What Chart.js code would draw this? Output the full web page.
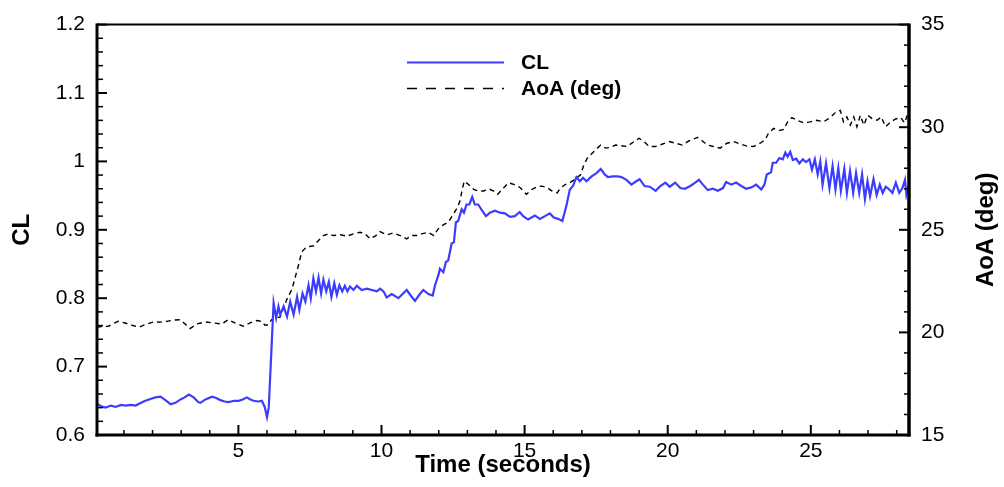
<!DOCTYPE html>
<html>
<head>
<meta charset="utf-8">
<script src="https://cdn.jsdelivr.net/npm/chart.js@4/dist/chart.umd.min.js"></script>
<style>
html,body{margin:0;padding:0;background:#fff;}
#wrap{width:1004px;height:487px;position:relative;}
</style>
</head>
<body>
<div id="wrap"><canvas id="c" width="1004" height="487"></canvas></div>
<script>
// ---- data ----
const clTime = [0.06,0.2,0.36,0.55,0.71,0.9,1.06,1.25,1.41,1.6,1.75,1.95,2.1,2.28,2.45,2.63,2.8,2.98,3.12,3.27,3.44,3.6,3.67,3.85,4.08,4.22,4.37,4.52,4.66,4.85,5.01,5.15,5.3,5.42,5.53,5.7,5.82,5.92,6.0,6.06,6.15,6.23,6.32,6.4,6.46,6.58,6.7,6.81,6.93,7.05,7.13,7.24,7.34,7.45,7.53,7.62,7.71,7.8,7.89,7.97,8.07,8.16,8.25,8.35,8.44,8.53,8.63,8.72,8.81,8.9,9.02,9.14,9.31,9.49,9.66,9.84,9.95,10.07,10.18,10.36,10.59,10.71,10.88,11.02,11.17,11.32,11.46,11.64,11.79,11.87,11.99,12.04,12.16,12.25,12.33,12.45,12.53,12.6,12.68,12.8,12.88,12.97,13.07,13.17,13.26,13.38,13.5,13.65,13.79,13.96,14.14,14.31,14.49,14.66,14.83,14.95,15.12,15.36,15.53,15.71,15.88,16.02,16.17,16.32,16.46,16.58,16.69,16.81,16.93,17.04,17.16,17.34,17.51,17.66,17.8,17.91,18.09,18.25,18.38,18.56,18.73,18.9,19.02,19.19,19.37,19.58,19.74,19.92,20.07,20.26,20.44,20.6,20.79,20.96,21.09,21.23,21.4,21.58,21.75,21.93,22.04,22.22,22.39,22.57,22.74,22.92,23.09,23.27,23.38,23.46,23.61,23.67,23.79,23.9,24.02,24.11,24.19,24.28,24.37,24.49,24.6,24.72,24.83,24.95,25.04,25.14,25.24,25.33,25.41,25.53,25.65,25.76,25.86,25.96,26.05,26.17,26.26,26.37,26.48,26.58,26.69,26.79,26.89,26.98,27.07,27.19,27.3,27.41,27.51,27.62,27.74,27.85,27.97,28.09,28.2,28.29,28.34,28.43];
const clValues = [0.646,0.642,0.640,0.643,0.641,0.644,0.643,0.644,0.643,0.647,0.650,0.653,0.655,0.656,0.651,0.645,0.647,0.652,0.655,0.659,0.655,0.648,0.647,0.652,0.656,0.654,0.651,0.649,0.648,0.650,0.650,0.652,0.655,0.652,0.650,0.649,0.650,0.641,0.626,0.640,0.720,0.793,0.771,0.788,0.776,0.788,0.773,0.795,0.776,0.802,0.783,0.807,0.795,0.819,0.800,0.829,0.810,0.830,0.807,0.827,0.810,0.824,0.802,0.822,0.805,0.819,0.810,0.818,0.810,0.817,0.812,0.818,0.812,0.814,0.812,0.810,0.814,0.810,0.801,0.806,0.800,0.805,0.812,0.804,0.796,0.805,0.812,0.806,0.804,0.819,0.834,0.843,0.838,0.853,0.855,0.880,0.882,0.911,0.913,0.930,0.925,0.937,0.937,0.948,0.937,0.937,0.929,0.920,0.925,0.928,0.925,0.924,0.919,0.920,0.926,0.920,0.915,0.921,0.916,0.920,0.924,0.918,0.916,0.913,0.935,0.959,0.964,0.977,0.971,0.976,0.971,0.978,0.983,0.989,0.981,0.977,0.978,0.978,0.977,0.973,0.966,0.971,0.974,0.964,0.963,0.957,0.964,0.969,0.963,0.969,0.961,0.960,0.964,0.969,0.973,0.966,0.958,0.960,0.957,0.961,0.970,0.966,0.969,0.964,0.960,0.962,0.966,0.959,0.966,0.981,0.984,0.998,0.998,1.005,1.003,1.013,1.007,1.014,1.002,1.004,0.997,1.003,0.999,1.003,0.988,1.003,0.981,1.000,0.966,0.997,0.961,0.993,0.959,0.990,0.957,0.989,0.954,0.986,0.954,0.983,0.954,0.981,0.945,0.971,0.949,0.974,0.951,0.966,0.954,0.963,0.959,0.954,0.969,0.954,0.961,0.973,0.951,0.965];

const aoaTime = [0.06,0.2,0.46,0.65,0.8,1.04,1.28,1.52,1.75,2.04,2.27,2.5,2.73,2.96,3.14,3.31,3.55,3.84,4.13,4.42,4.65,4.88,5.17,5.41,5.64,5.81,5.93,6.05,6.16,6.28,6.45,6.51,6.69,6.87,6.99,7.1,7.21,7.38,7.62,7.8,7.97,8.15,8.32,8.56,8.79,9.02,9.25,9.43,9.6,9.78,9.95,10.18,10.41,10.65,10.88,11.05,11.23,11.4,11.63,11.83,11.98,12.16,12.34,12.51,12.66,12.74,12.81,12.89,13.04,13.22,13.39,13.57,13.74,13.92,14.06,14.27,14.44,14.62,14.85,15.06,15.26,15.44,15.61,15.79,15.96,16.14,16.26,16.43,16.61,16.78,16.96,17.07,17.19,17.36,17.54,17.66,17.83,18.01,18.18,18.36,18.58,18.82,19.0,19.17,19.35,19.58,19.82,20.05,20.28,20.51,20.75,21.04,21.2,21.38,21.6,21.83,22.07,22.3,22.53,22.77,23.0,23.23,23.4,23.52,23.7,23.87,24.05,24.19,24.34,24.52,24.75,24.98,25.21,25.44,25.68,25.85,26.03,26.14,26.26,26.38,26.5,26.61,26.73,26.85,26.99,27.14,27.32,27.46,27.61,27.79,27.96,28.14,28.28,28.37,28.43];
const aoaValues = [20.25,20.28,20.3,20.45,20.54,20.46,20.35,20.25,20.38,20.51,20.5,20.54,20.6,20.62,20.41,20.19,20.41,20.51,20.46,20.41,20.62,20.46,20.3,20.46,20.58,20.54,20.35,20.38,20.62,20.73,20.73,20.94,21.6,22.1,22.71,23.27,23.92,24.16,24.22,24.48,24.72,24.8,24.72,24.76,24.69,24.8,24.88,24.8,24.56,24.69,24.91,24.75,24.85,24.72,24.56,24.72,24.72,24.8,24.88,24.72,25.04,25.24,25.38,25.76,26.1,26.4,26.89,27.37,27.21,26.97,26.89,26.89,27.0,26.89,26.73,27.05,27.29,27.21,27.05,26.73,26.97,27.1,27.13,27.05,26.89,26.8,27.05,27.21,27.32,27.48,27.69,28.17,28.49,28.73,28.98,29.13,28.98,29.02,29.13,29.1,29.06,29.3,29.46,29.3,29.06,29.06,29.18,29.3,29.22,29.13,29.34,29.5,29.34,29.13,29.06,28.98,29.22,29.3,29.18,29.08,29.06,29.22,29.38,29.7,29.94,29.83,29.89,30.26,30.47,30.34,30.21,30.26,30.34,30.26,30.47,30.7,30.82,30.26,30.5,30.1,30.5,30.02,30.58,30.1,30.58,30.42,30.34,30.5,30.02,30.26,30.4,30.47,30.21,30.58,30.4];

const xTicks = [5,10,15,20,25];
const xTickLabels = ['5','10','15','20','25'];
const clTicks = [0.6,0.7,0.8,0.9,1.0,1.1,1.2];
const clTickLabels = ['0.6','0.7','0.8','0.9','1','1.1','1.2'];
const aoaTicks = [15,20,25,30,35];
const aoaTickLabels = ['15','20','25','30','35'];

const FONT = "'Liberation Sans', Arial, sans-serif";

const clData = clTime.map((t,i)=>({x:t,y:clValues[i]}));
const aoaData = aoaTime.map((t,i)=>({x:t,y:aoaValues[i]}));

function minorValues(scale, majors){
  const step = majors[1]-majors[0];
  const ms = step/5;
  const out = [];
  const start = majors[0]-step;
  const n = Math.round(((majors[majors.length-1]+step)-start)/ms);
  for(let k=0;k<=n;k++){
    const v = start + k*ms;
    if (v < scale.min-1e-9 || v > scale.max+1e-9) continue;
    if (majors.some(m=>Math.abs(m-v)<1e-6)) continue;
    out.push(v);
  }
  return out;
}

const framePlugin = {
  id:'frame',
  afterDatasetsDraw(chart){
    const {ctx, chartArea:a, scales} = chart;
    ctx.save();
    ctx.strokeStyle = '#000';
    ctx.lineCap = 'butt';
    // x ticks (inward, upward from bottom)
    const sx = scales.x;
    ctx.lineWidth = 2;
    xTicks.forEach(v=>{const p=sx.getPixelForValue(v); ctx.beginPath(); ctx.moveTo(p,a.bottom); ctx.lineTo(p,a.bottom-10); ctx.stroke();});
    ctx.lineWidth = 1.5;
    minorValues(sx,xTicks).forEach(v=>{const p=sx.getPixelForValue(v); ctx.beginPath(); ctx.moveTo(p,a.bottom); ctx.lineTo(p,a.bottom-5); ctx.stroke();});
    // left ticks
    const sy = scales.y;
    ctx.lineWidth = 2;
    clTicks.forEach(v=>{const p=sy.getPixelForValue(v); ctx.beginPath(); ctx.moveTo(a.left,p); ctx.lineTo(a.left+10,p); ctx.stroke();});
    ctx.lineWidth = 1.5;
    minorValues(sy,clTicks).forEach(v=>{const p=sy.getPixelForValue(v); ctx.beginPath(); ctx.moveTo(a.left,p); ctx.lineTo(a.left+6,p); ctx.stroke();});
    // right ticks
    const sr = scales.y2;
    ctx.lineWidth = 2;
    aoaTicks.forEach(v=>{const p=sr.getPixelForValue(v); ctx.beginPath(); ctx.moveTo(a.right,p); ctx.lineTo(a.right-10,p); ctx.stroke();});
    ctx.lineWidth = 1.5;
    minorValues(sr,aoaTicks).forEach(v=>{const p=sr.getPixelForValue(v); ctx.beginPath(); ctx.moveTo(a.right,p); ctx.lineTo(a.right-5,p); ctx.stroke();});
    // frame
    ctx.lineWidth = 2;
    ctx.beginPath(); ctx.moveTo(a.left,a.top); ctx.lineTo(a.right,a.top); ctx.stroke();
    ctx.lineWidth = 3;
    ctx.beginPath(); ctx.moveTo(a.left,a.top-1); ctx.lineTo(a.left,a.bottom+1.5); ctx.stroke();
    ctx.beginPath(); ctx.moveTo(a.left-1.5,a.bottom); ctx.lineTo(a.right+1.5,a.bottom); ctx.stroke();
    ctx.lineWidth = 3.5;
    ctx.beginPath(); ctx.moveTo(a.right,a.top-1); ctx.lineTo(a.right,a.bottom+1.5); ctx.stroke();

    // legend (inside plot)
    const rows = [62.5, 88.5];
    chart.data.datasets.forEach((ds,i)=>{
      const y = rows[i];
      ctx.save();
      ctx.strokeStyle = ds.borderColor;
      ctx.lineWidth = i===0 ? 2.2 : 1.4;
      ctx.setLineDash(i===0 ? [] : [10,9]);
      ctx.beginPath(); ctx.moveTo(407,y); ctx.lineTo(504,y); ctx.stroke();
      ctx.restore();
      ctx.fillStyle = '#000';
      ctx.font = "bold 21px " + FONT;
      ctx.textBaseline = 'middle';
      ctx.textAlign = 'left';
      ctx.fillText(ds.label, 521, y+1);
    });

    // right axis title, reading bottom-to-top
    const t = sr.options.title;
    ctx.save();
    ctx.translate(986, (a.top+a.bottom)/2);
    ctx.rotate(-Math.PI/2);
    ctx.fillStyle = '#000';
    ctx.font = "bold 24px " + FONT;
    ctx.textAlign = 'center';
    ctx.textBaseline = 'middle';
    ctx.fillText(t.text, 0, 0);
    ctx.restore();
    ctx.restore();
  }
};

new Chart(document.getElementById('c'), {
  type:'line',
  data:{
    datasets:[
      {label:'CL', data:clData, yAxisID:'y', borderColor:'#3c3cff', borderWidth:2.2, pointRadius:0, tension:0, fill:false},
      {label:'AoA (deg)', data:aoaData, yAxisID:'y2', borderColor:'#000000', borderWidth:1.4, borderDash:[5,4], pointRadius:0, tension:0, fill:false}
    ]
  },
  options:{
    responsive:false,
    animation:false,
    events:[],
    layout:{padding:{top:20,left:0,right:0,bottom:0}},
    plugins:{legend:{display:false}, tooltip:{enabled:false}},
    scales:{
      x:{
        type:'linear', min:0.06, max:28.43,
        afterBuildTicks:s=>{s.ticks = xTicks.map(v=>({value:v}));},
        afterFit:s=>{s.height = 52;},
        grid:{display:false, drawTicks:false},
        border:{display:false},
        ticks:{padding:4, color:'#000', font:{family:FONT, size:21}, maxRotation:0, autoSkip:false,
          callback:(v,i)=>xTickLabels[i]},
        title:{display:true, text:'Time (seconds)', color:'#000', font:{family:FONT, size:24, weight:'bold'}, padding:{top:0,bottom:7}}
      },
      y:{
        type:'linear', position:'left', min:0.6, max:1.2,
        afterBuildTicks:s=>{s.ticks = clTicks.map(v=>({value:v}));},
        afterFit:s=>{s.width = 97;},
        grid:{display:false, drawTicks:false},
        border:{display:false},
        ticks:{padding:12, color:'#000', font:{family:FONT, size:21}, autoSkip:false,
          callback:(v,i)=>clTickLabels[i]},
        title:{display:true, text:'CL', color:'#000', font:{family:FONT, size:24, weight:'bold'}, padding:{top:8,bottom:0}}
      },
      y2:{
        type:'linear', position:'right', min:15, max:35,
        afterBuildTicks:s=>{s.ticks = aoaTicks.map(v=>({value:v}));},
        afterFit:s=>{s.width = 95;},
        grid:{display:false, drawTicks:false},
        border:{display:false},
        ticks:{padding:12, color:'#000', font:{family:FONT, size:21}, autoSkip:false,
          callback:(v,i)=>aoaTickLabels[i]},
        title:{display:false, text:'AoA (deg)', font:{family:FONT, size:24, weight:'bold'}}
      }
    }
  },
  plugins:[framePlugin]
});
</script>
</body>
</html>
